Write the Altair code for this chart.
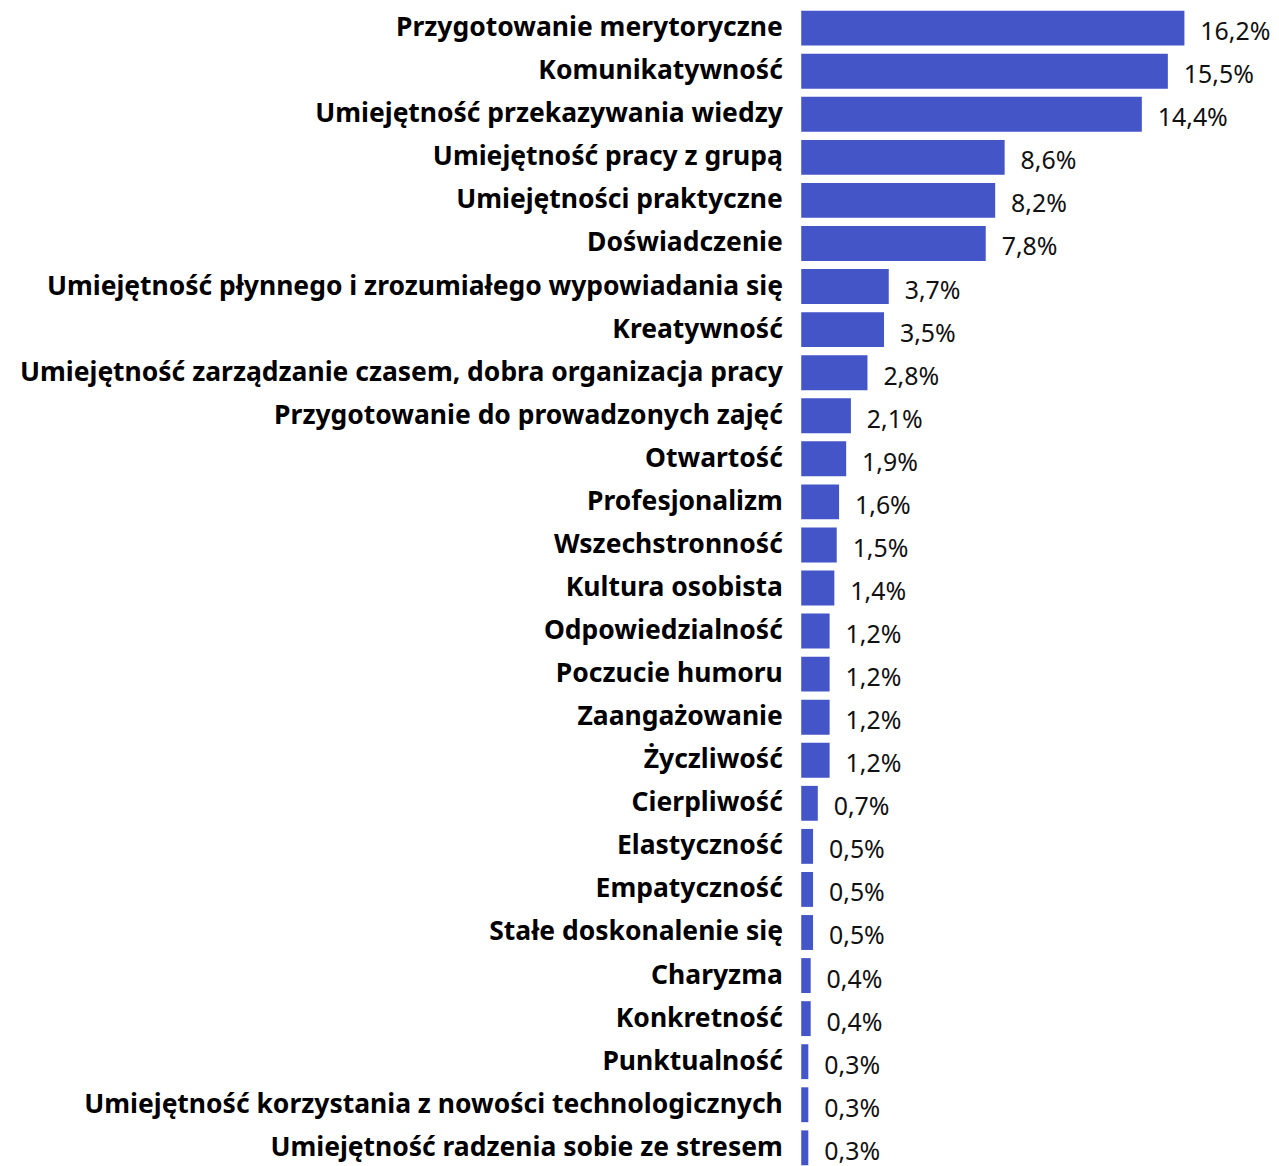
import altair as alt
import pandas as pd

categories = [
    "Przygotowanie merytoryczne",
    "Komunikatywność",
    "Umiejętność przekazywania wiedzy",
    "Umiejętność pracy z grupą",
    "Umiejętności praktyczne",
    "Doświadczenie",
    "Umiejętność płynnego i zrozumiałego wypowiadania się",
    "Kreatywność",
    "Umiejętność zarządzanie czasem, dobra organizacja pracy",
    "Przygotowanie do prowadzonych zajęć",
    "Otwartość",
    "Profesjonalizm",
    "Wszechstronność",
    "Kultura osobista",
    "Odpowiedzialność",
    "Poczucie humoru",
    "Zaangażowanie",
    "Życzliwość",
    "Cierpliwość",
    "Elastyczność",
    "Empatyczność",
    "Stałe doskonalenie się",
    "Charyzma",
    "Konkretność",
    "Punktualność",
    "Umiejętność korzystania z nowości technologicznych",
    "Umiejętność radzenia sobie ze stresem",
]
values = [16.2, 15.5, 14.4, 8.6, 8.2, 7.8, 3.7, 3.5, 2.8, 2.1, 1.9, 1.6, 1.5,
          1.4, 1.2, 1.2, 1.2, 1.2, 0.7, 0.5, 0.5, 0.5, 0.4, 0.4, 0.3, 0.3, 0.3]
labels = [f"{v:.1f}".replace(".", ",") + "%" for v in values]

df = pd.DataFrame({"cat": categories, "val": values, "lab": labels})

FONT = "Noto Sans"

y = alt.Y("cat:N", sort=categories, title=None,
          scale=alt.Scale(paddingInner=0.19, paddingOuter=0.0),
          axis=alt.Axis(domain=False, ticks=False, labelFontSize=26.6,
                        labelFontWeight="bold", labelFont=FONT, labelColor="#000000",
                        labelPadding=19, labelLimit=1000))
x = alt.X("val:Q", title=None, scale=alt.Scale(domain=[0, 16.2], nice=False, zero=True),
          axis=None)

bars = alt.Chart(df).mark_bar(color="#4455C7").encode(x=x, y=y)
text = alt.Chart(df).mark_text(align="left", baseline="middle", dx=16, dy=4,
                               fontSize=25, font=FONT, color="#111111").encode(
    x=x, y=y, text="lab:N")

chart = (bars + text).properties(
    width=385, height=1160,
    padding={"left": 11, "top": 0, "right": 0, "bottom": 0},
).configure_view(stroke=None)

chart.save("out.html", embed_options={"renderer": "svg", "actions": False})
